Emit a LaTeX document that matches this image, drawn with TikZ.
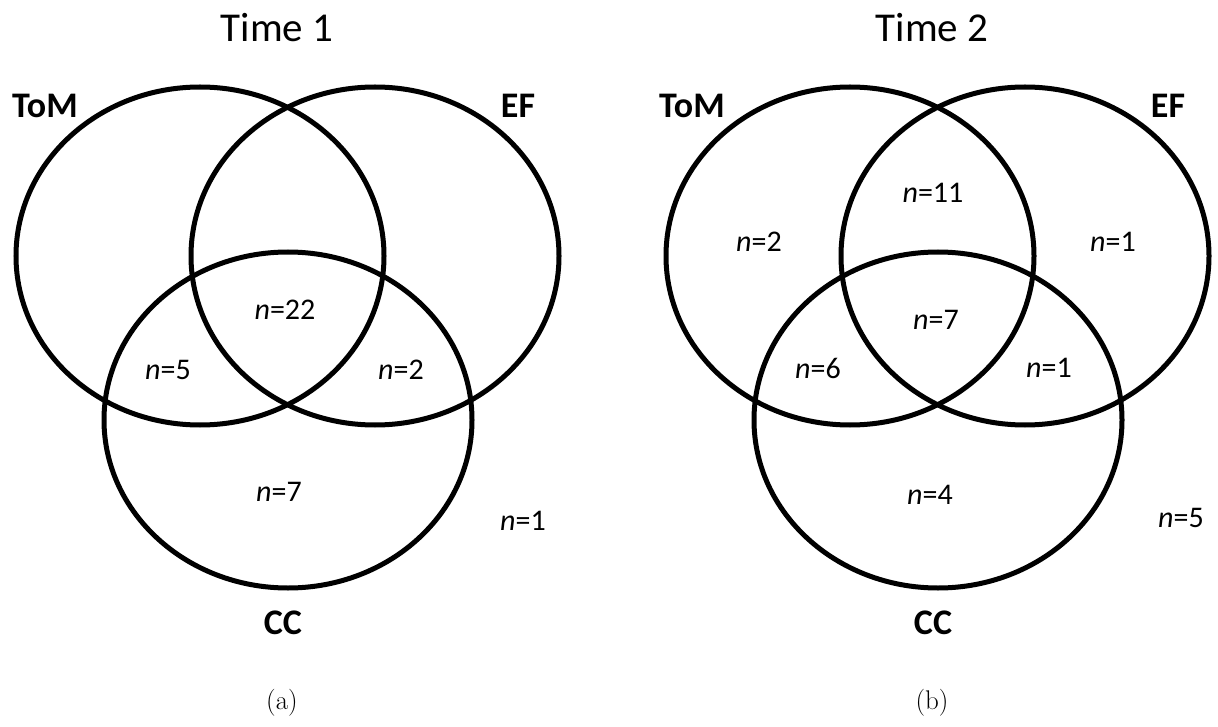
\documentclass[tikz,border=0pt]{standalone}
\usepackage{fontspec}
\newfontfamily\calib{Carlito}
\begin{document}
\begin{tikzpicture}[x=1pt,y=-1pt,
  ring/.style={line width=5pt},
  ttl/.style={inner sep=0pt,font=\calib\fontsize{41}{48}\selectfont},
  setname/.style={inner sep=0pt,font=\calib\bfseries\fontsize{36}{42}\selectfont},
  count/.style={inner sep=0pt,font=\calib\fontsize{30}{36}\selectfont},
  sublbl/.style={inner sep=0pt,font=\fontsize{27}{32}\selectfont}]
\useasboundingbox (0,0) rectangle (1218,727);
% ---------- (a) Time 1 ----------
\draw[ring] (200,256) ellipse [x radius=184, y radius=169];
\draw[ring] (375,256) ellipse [x radius=184, y radius=169];
\draw[ring] (288,420) ellipse [x radius=184, y radius=168];
\node[ttl] (t1) at (277,28) {Time 1};
\node[setname] (tomA) at (45,106) {ToM};
\node[setname] (efA) at (518,106) {EF};
\node[setname] (ccA) at (283,623) {CC};
\node[count] (a22) at (285,310) {{\itshape n}=22};
\node[count] (a5) at (168,370) {{\itshape n}=5};
\node[count] (a2) at (401,370) {{\itshape n}=2};
\node[count] (a7) at (279,492) {{\itshape n}=7};
\node[count] (a1) at (523,521) {{\itshape n}=1};
\node[sublbl] (suba) at (282,703) {(a)};
% ---------- (b) Time 2 ----------
\draw[ring] (850,256) ellipse [x radius=184, y radius=169];
\draw[ring] (1025,256) ellipse [x radius=184, y radius=169];
\draw[ring] (938,420) ellipse [x radius=184, y radius=168];
\node[ttl] (t2) at (932,28) {Time 2};
\node[setname] (tomB) at (692,106) {ToM};
\node[setname] (efB) at (1168,106) {EF};
\node[setname] (ccB) at (933,623) {CC};
\node[count] (b11) at (933,193) {{\itshape n}=11};
\node[count] (b2) at (759,242) {{\itshape n}=2};
\node[count] (b1a) at (1113,242) {{\itshape n}=1};
\node[count] (b7) at (936,320) {{\itshape n}=7};
\node[count] (b6) at (818,368) {{\itshape n}=6};
\node[count] (b1b) at (1049,368) {{\itshape n}=1};
\node[count] (b4) at (930,495) {{\itshape n}=4};
\node[count] (b5) at (1181,518) {{\itshape n}=5};
\node[sublbl] (subb) at (932,703) {(b)};
\end{tikzpicture}
\end{document}
